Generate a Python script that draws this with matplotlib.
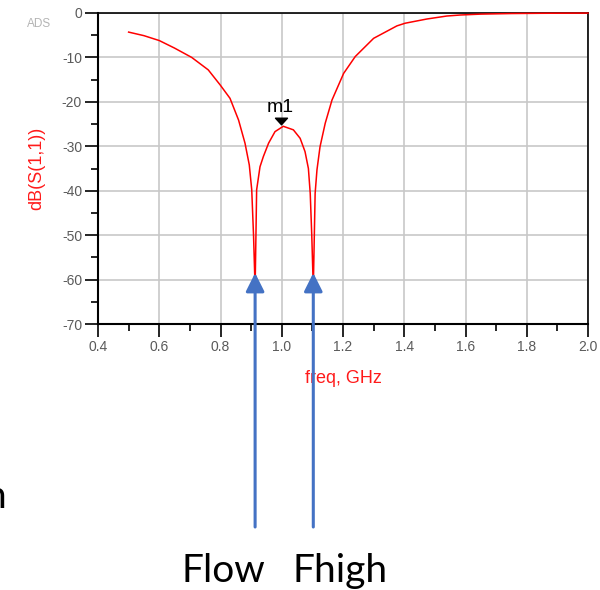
import matplotlib
matplotlib.use('Agg')
import matplotlib.pyplot as plt
import matplotlib.transforms as mtransforms
from matplotlib.path import Path
from matplotlib.ticker import MultipleLocator, FormatStrFormatter

# ---- data ----
freq_ghz = [0.50, 0.55, 0.60, 0.65, 0.706, 0.76, 0.799, 0.831, 0.859, 0.880,
            0.894, 0.902, 0.908, 0.913, 0.918, 0.929, 0.940, 0.957, 0.978, 1.005,
            1.038, 1.060, 1.076, 1.087, 1.093, 1.098, 1.103, 1.109, 1.115, 1.125,
            1.142, 1.164, 1.202, 1.240, 1.300, 1.376, 1.403, 1.474, 1.539, 1.583,
            1.65, 1.75, 1.85, 2.0]
s11_db = [-4.3, -5.1, -6.2, -7.9, -10.0, -12.8, -16.2, -19.2, -24.1, -29.3,
          -34.2, -39.8, -50.3, -62.0, -39.8, -34.6, -32.3, -29.3, -26.7, -25.5,
          -26.3, -28.2, -31.2, -35.0, -40.6, -50.0, -62.0, -40.6, -35.3, -30.1,
          -24.8, -19.6, -13.6, -9.8, -5.7, -2.9, -2.3, -1.35, -0.68, -0.45,
          -0.25, -0.12, -0.06, -0.02]
marker_name = "m1"
marker_freq = 1.005
marker_db = -25.5
band_edges = [0.913, 1.103]
band_labels = ["Flow", "Fhigh"]
arrow_tip_db = -58.5

plt.rcParams['axes.unicode_minus'] = False
plt.rcParams['font.family'] = ['Liberation Sans', 'DejaVu Sans']

fig = plt.figure(figsize=(6.0, 5.9), dpi=100)
W, H = 600, 590
ax = fig.add_axes([98 / W, 1 - 324 / H, 490 / W, 311 / H])

red = '#ff1a1a'
gray_txt = '#5a5a5a'

ax.plot(freq_ghz, s11_db, color='#ff0000', lw=1.1, clip_on=False, zorder=3)

ax.set_xlim(0.4, 2.0)
ax.set_ylim(-70, 0)
ax.xaxis.set_major_locator(MultipleLocator(0.2))
ax.xaxis.set_minor_locator(MultipleLocator(0.1))
ax.yaxis.set_major_locator(MultipleLocator(10))
ax.yaxis.set_minor_locator(MultipleLocator(5))
ax.xaxis.set_major_formatter(FormatStrFormatter('%.1f'))
ax.yaxis.set_major_formatter(FormatStrFormatter('%d'))

ax.grid(True, which='major', color='#c8c8c8', lw=1.2, zorder=0)
ax.set_axisbelow(True)
ax.tick_params(which='major', direction='out', length=9.5, width=1.2,
               color='black', labelsize=10, labelcolor=gray_txt, pad=2)
ax.tick_params(which='minor', direction='out', length=5, width=1.2, color='black')
for side in ['left', 'bottom']:
    ax.spines[side].set_linewidth(1.5)
for side in ['top', 'right']:
    ax.spines[side].set_linewidth(1.2)

ax.set_ylabel('dB(S(1,1))', color=red, fontsize=13)
ax.yaxis.set_label_coords(-(98 - 45) / 490, 0.5)
ax.set_xlabel('freq, GHz', color=red, fontsize=13)
ax.xaxis.set_label_coords(0.5, -(370 - 324) / 311)

fig.text(39.5 / W, 1 - 24 / H, 'ADS', color='#b4b4b4', fontsize=8.5,
         ha='center', va='center')

# marker m1
tri = Path([(-1, 0.55), (1, 0.55), (0, -0.55), (-1, 0.55)],
           [Path.MOVETO, Path.LINETO, Path.LINETO, Path.CLOSEPOLY])
off = mtransforms.offset_copy(ax.transData, fig=fig, x=-2, y=5.3, units='dots')
ax.plot([marker_freq], [marker_db], marker=tri, ms=8.6, color='black',
        ls='none', transform=off, zorder=4, clip_on=False)
ax.annotate(marker_name, xy=(marker_freq, marker_db), xytext=(-2, 10),
            textcoords='offset points', ha='center', va='baseline',
            fontsize=14, color='black')

# blue arrows
for f in band_edges:
    ax.annotate('', xy=(f, arrow_tip_db), xycoords='data',
                xytext=(f, 63), textcoords=('data', 'figure pixels'),
                arrowprops=dict(arrowstyle='-|>,head_length=0.8,head_width=0.4',
                                mutation_scale=14, color='#4472c4', lw=2.2,
                                shrinkA=0, shrinkB=0),
                annotation_clip=False, zorder=5)

fig.text(265 / W, 8 / H, band_labels[0], fontsize=28, family='Lato',
         ha='right', va='baseline', color='black')
fig.text(292 / W, 8 / H, band_labels[1], fontsize=28, family='Lato',
         ha='left', va='baseline', color='black')
fig.text(6 / W, 82 / H, 'n', fontsize=28, family='Lato',
         ha='right', va='baseline', color='black')

fig.savefig('out.png', dpi=100)
